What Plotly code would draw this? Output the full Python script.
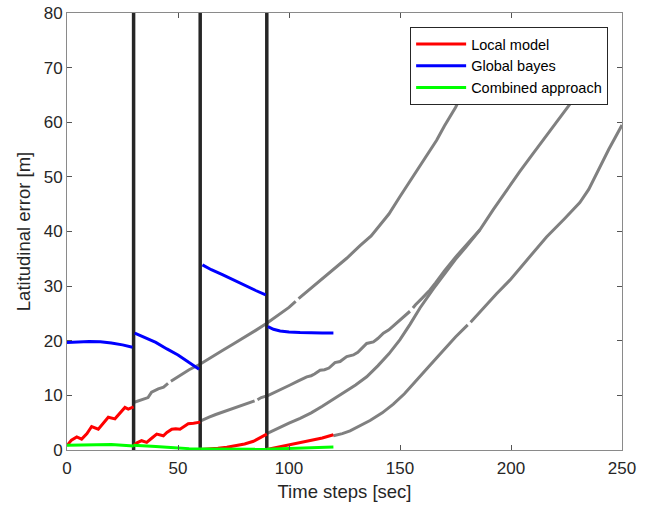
import plotly.graph_objects as go

# ---- data ----
red_x = [0, 2, 4.4, 6.6, 9, 11.1, 14.1, 16, 18.6, 21.6, 24, 26.1, 27.6, 30, None,
         30, 31.5, 33.6, 35.9, 38, 40.4, 43.4, 45, 47.2, 49, 50.9, 53, 54.6, 57, 60, None,
         60, 64, 68, 72, 76, 80, 84, 88, 90, None,
         90, 95, 100, 105, 110, 115, 120]
red_y = [0.8, 1.8, 2.4, 2.0, 3.0, 4.3, 3.8, 4.8, 6.0, 5.7, 6.8, 7.8, 7.5, 7.9, None,
         0.8, 1.3, 1.7, 1.4, 2.1, 2.9, 2.6, 3.2, 3.8, 3.9, 3.8, 4.4, 4.8, 4.9, 5.1, None,
         0.1, 0.15, 0.3, 0.5, 0.75, 1.1, 1.6, 2.4, 2.9, None,
         0.1, 0.5, 0.95, 1.4, 1.8, 2.2, 2.8]

blue_x = [0, 5, 10, 15, 20, 25, 29.5, None,
          30.5, 35, 40, 45, 50, 55, 59.5, None,
          61, 65, 70, 75, 80, 85, 89.5, None,
          90.5, 93, 96, 100, 105, 110, 115, 120]
blue_y = [19.7, 19.8, 19.85, 19.8, 19.6, 19.25, 18.8, None,
          21.4, 20.6, 19.7, 18.5, 17.4, 16.0, 14.8, None,
          33.9, 33.0, 32.1, 31.1, 30.1, 29.2, 28.4, None,
          22.6, 22.1, 21.8, 21.6, 21.5, 21.4, 21.4, 21.4]

green_x = [0, 10, 20, 30, None,
           30, 35, 40, 45, 50, 55, 60, None,
           60, 70, 80, 90, None,
           90, 100, 110, 120]
green_y = [0.85, 0.95, 1.0, 0.75, None,
           0.85, 0.8, 0.65, 0.5, 0.35, 0.25, 0.2, None,
           0.2, 0.15, 0.15, 0.15, None,
           0.15, 0.3, 0.45, 0.55]

grayA_x = [30, 32, 34.4, 36.5, 38.1, 41.1, 43.5, 45.5, None, 46.8, 50.9, 55, 59.9, 65, 70,
           74.9, 80, 85, 90, 95, 100, 103, None, 104.3, 108.5, 112.5, 117, 121.5, 126, 132,
           137, 141, 145, 150, 154.5, 159, 163, 166.5, 170, 172.5, 175, 177.8, 182, 186]
grayA_y = [8.7, 9.0, 9.3, 9.6, 10.6, 11.2, 11.5, 12.2, None, 12.6, 13.6, 14.7, 15.7, 16.9, 18.2,
           19.4, 20.6, 21.9, 23.2, 24.7, 26.1, 27.2, None, 27.7, 29.1, 30.5, 32.0, 33.6, 35.1, 37.4,
           39.2, 41.2, 43.2, 46.4, 49.2, 51.9, 54.4, 56.7, 59.3, 61.0, 62.7, 65.0, 67.6, 70.0]

grayB_x = [60, 62, 64, 67, 70.4, 74, 77.9, 81, 84.5, None, 85.8, 87.5, 90.7, 95, 98, 100.5, 104, 108,
           110, 111.5, 114, 116, 118, 120.7, 123, 126, 129, 131, 135, 138, 140, 142.5, 145,
           148.5, 152, 154.5, None, 155.8, 157, 160, 163.5, 166, 170, 175, 180, 186, 192, 198, 204,
           210, 216, 222, 230, 238]
grayB_y = [5.3, 5.6, 6.0, 6.5, 7.0, 7.5, 8.1, 8.6, 9.0, None, 9.2, 9.6, 10.0, 10.8, 11.3, 11.9, 12.6, 13.4,
           13.6, 13.9, 14.6, 14.7, 15.0, 16.0, 16.2, 17.1, 17.4, 17.9, 19.5, 19.8, 20.4, 21.4, 22.0,
           23.2, 24.4, 25.4, None, 26.0, 26.6, 27.8, 29.3, 30.6, 32.8, 35.3, 37.6, 40.3, 44.0, 47.6, 51.0,
           54.3, 57.6, 61.0, 65.2, 69.5]

grayC_x = [90, 95, 100, 105, 110, 115, 120, 125, 130, 135, 140, 145, 150, 154.5, 159, 165,
           170, 175, 180, 186]
grayC_y = [3.0, 4.0, 4.9, 5.8, 6.8, 8.0, 9.3, 10.6, 11.9, 13.4, 15.4, 17.6, 20.2, 23.0, 26.0, 29.5,
           32.2, 34.9, 37.3, 40.3]

grayD_x = [120, 124, 127.5, 132, 136.5, 142, 147, 152, 157.5, 163, 169.5, 175, 180.5, None,
           181.8, 187, 193.5, 199.5, 204, 208.6, 216, 224, 231, 235, 238.6, 244, 250]
grayD_y = [2.6, 3.0, 3.5, 4.4, 5.4, 6.8, 8.4, 10.3, 12.7, 15.3, 18.2, 20.7, 22.9, None,
           23.4, 25.8, 28.6, 31.1, 33.3, 35.5, 39.0, 42.3, 45.3, 47.7, 50.6, 55.0, 59.5]

switch_x = [30, 30, None, 60, 60, None, 90, 90]
switch_y = [0, 80, None, 0, 80, None, 0, 80]

x_ticks = [0, 50, 100, 150, 200, 250]
y_ticks = [0, 10, 20, 30, 40, 50, 60, 70, 80]

GRAY = "#808080"
DARK = "#262626"

fig = go.Figure()
for gx, gy in [(grayA_x, grayA_y), (grayB_x, grayB_y), (grayC_x, grayC_y), (grayD_x, grayD_y)]:
    fig.add_trace(go.Scatter(x=gx, y=gy, mode="lines", line=dict(color=GRAY, width=3),
                             showlegend=False, hoverinfo="skip"))
fig.add_trace(go.Scatter(x=switch_x, y=switch_y, mode="lines", line=dict(color=DARK, width=3.5),
                         showlegend=False, hoverinfo="skip"))
fig.add_trace(go.Scatter(x=red_x, y=red_y, mode="lines", name="Local model",
                         line=dict(color="#ff0000", width=3)))
fig.add_trace(go.Scatter(x=blue_x, y=blue_y, mode="lines", name="Global bayes",
                         line=dict(color="#0000ff", width=3)))
fig.add_trace(go.Scatter(x=green_x, y=green_y, mode="lines", name="Combined approach",
                         line=dict(color="#00ff00", width=3)))

axis_common = dict(showline=True, linecolor="#8a8a8a", linewidth=1, mirror="ticks",
                   ticks="inside", ticklen=5, tickcolor="#555555", showgrid=False, zeroline=False,
                   automargin=False,
                   tickfont=dict(family="Liberation Sans, Arial", size=17, color=DARK))

fig.update_layout(
    width=660, height=508,
    margin=dict(l=67, r=38, t=13, b=58),
    paper_bgcolor="white", plot_bgcolor="white",
    font=dict(family="Liberation Sans, Arial", color=DARK),
    xaxis=dict(range=[0, 250], tickvals=x_ticks, ticktext=[str(v) for v in x_ticks],
               ticklabelstandoff=3,
               title=dict(text="Time steps [sec]", font=dict(size=18.5, color=DARK), standoff=7),
               **axis_common),
    yaxis=dict(range=[0, 80], tickvals=y_ticks, ticktext=[str(v) for v in y_ticks],
               title=dict(text="Latitudinal error [m]", font=dict(size=18.5, color=DARK), standoff=8),
               **axis_common),
    legend=dict(x=0.975, y=0.968, xanchor="right", yanchor="top", bgcolor="white",
                bordercolor=DARK, borderwidth=1, font=dict(size=14.5, color="black"),
                itemwidth=50, tracegroupgap=0),
    showlegend=True,
)

fig.write_html("out.html")
